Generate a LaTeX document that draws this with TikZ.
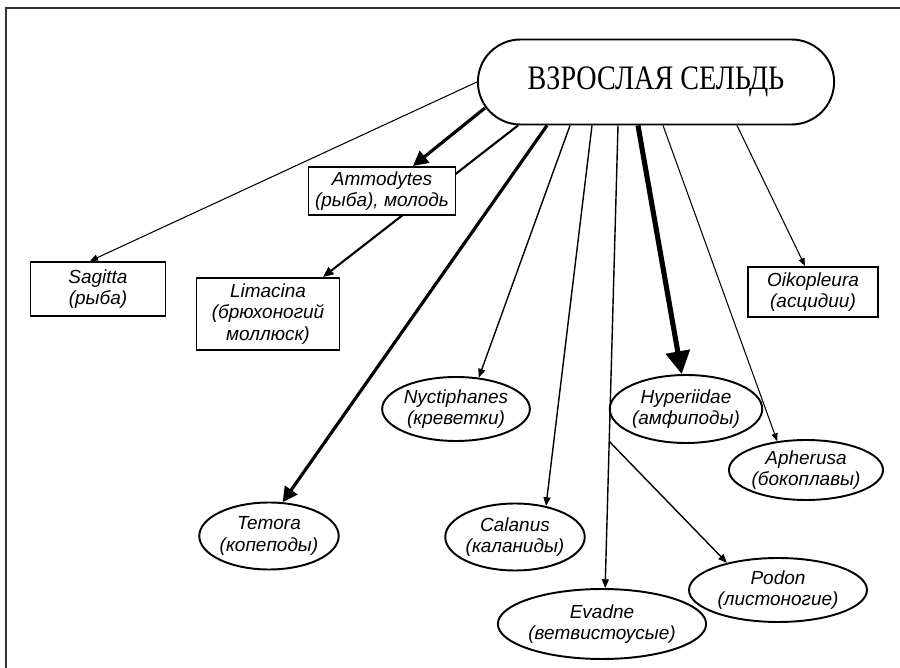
\documentclass[tikz,border=0pt]{standalone}
\usepackage{fontspec}
\newfontfamily\sansfam{Liberation Sans}
\newfontfamily\seriffam{Liberation Serif}
\usepackage{tikz}
\usetikzlibrary{arrows.meta}
\usetikzlibrary{shapes.geometric, shapes.misc, calc, backgrounds}
\tikzset{
taxon box/.style = { rectangle, draw = black, fill = white, line width = 1.1pt, inner sep = 0pt, align = center, font = \sansfam\itshape\fontsize{10.8}{12.4}\selectfont },
taxon oval/.style = { ellipse, draw = black, fill = white, line width = 1.1pt, inner sep = 0pt, align = center, font = \sansfam\itshape\fontsize{10.8}{12.4}\selectfont },
herring/.style = { rounded rectangle, draw = black, fill = white, line width = 1.1pt, minimum width = 7.36cm, minimum height = 1.7cm, font = \seriffam\fontsize{16}{19}\selectfont },
thin link/.style = { line width = 0.6pt, -{Triangle[length = 4.5pt, width = 3.5pt]} },
mid link/.style = { line width = 0.8pt, -{Triangle[length = 5pt, width = 4pt]} },
firm link/.style = { line width = 1.2pt, -{Triangle[length = 6pt, width = 5pt]} },
thick link/.style = { line width = 1.8pt, -{Triangle[length = 8.5pt, width = 8.5pt]} },
heavy link/.style = { line width = 2.9pt, -{Triangle[length = 13pt, width = 13.5pt]} },
}

\begin{document}
\begin{tikzpicture}[x=0.02cm, y=-0.02cm]
    \useasboundingbox (0,0) rectangle (900,668);
    \draw[line width = 1.5pt, black!80] (6,668) -- (6,8) -- (900,8);
    \node[herring] (adult) at (656,82) {\scalebox{1}[1.22]{ВЗРОСЛАЯ СЕЛЬДЬ}};
    \begin{scope}[every node/.style={taxon box}]
      \node[minimum width = 2.7cm, minimum height = 1.08cm] (sagitta) at (98,289) {Sagitta\\(рыба)};
      \node[minimum width = 2.86cm, minimum height = 1.44cm] (limacina) at (268,314) {Limacina\\(брюхоногий\\моллюск)};
      \node[minimum width = 2.94cm, minimum height = 0.96cm] (ammodytes) at (382,191) {Ammodytes\\(рыба), молодь};
      \node[minimum width = 2.6cm, minimum height = 1.0cm] (oikopleura) at (813,292) {Oikopleura\\(асцидии)};
    \end{scope}
    \begin{scope}[every node/.style={taxon oval}]
      \node[minimum width = 2.94cm, minimum height = 1.28cm] (nyctiphanes) at (456,409) {Nyctiphanes\\(креветки)};
      \node[minimum width = 2.76cm, minimum height = 1.36cm] (hyperiidae) at (686,409) {Hyperiidae\\(амфиподы)};
      \node[minimum width = 2.92cm, minimum height = 1.2cm] (apherusa) at (806,470) {Apherusa\\(бокоплавы)};
      \node[minimum width = 2.64cm, minimum height = 1.34cm] (temora) at (269,536) {Temora\\(копеподы)};
      \node[minimum width = 2.66cm, minimum height = 1.34cm] (calanus) at (515,537) {Calanus\\(каланиды)};
      \node[minimum width = 3.36cm, minimum height = 1.4cm] (evadne) at (602,624) {Evadne\\(ветвистоусые)};
      \node[minimum width = 3.56cm, minimum height = 1.28cm] (podon) at (778,590) {Podon\\(листоногие)};
    \end{scope}
    \coordinate (to evadne) at ($(adult.south)+(-38,0)$);
    \coordinate (fork) at ($(to evadne)!0.683!(evadne.85)$);
    \begin{scope}[on background layer]
      \path [thin link] (adult.west) edge ($(sagitta.north)+(-8,0)$);
      \path [thick link] ($(adult.west)+(8,26)$) edge ($(ammodytes.north)+(31,0)$);
      \path [firm link] ($(adult.south)+(-138,0)$) edge ($(limacina.north)+(55,0)$);
      \path [thick link] ($(adult.south)+(-109,0)$) edge (temora.68);
      \path [mid link] ($(adult.south)+(-86,0)$) edge (nyctiphanes.54);
      \path [mid link] ($(adult.south)+(-64,0)$) edge (calanus.45);
      \path [mid link] (to evadne) edge (evadne.85);
      \path [mid link] (fork) edge (podon.152);
      \path [heavy link] ($(adult.south)+(-18,0)$) edge (hyperiidae.97);
      \path [thin link] ($(adult.south)+(7,0)$) edge (apherusa.135);
      \path [thin link] ($(adult.south)+(81,0)$) edge ($(oikopleura.north)+(-8,0)$);
    \end{scope}
  \end{tikzpicture}
\end{document}
